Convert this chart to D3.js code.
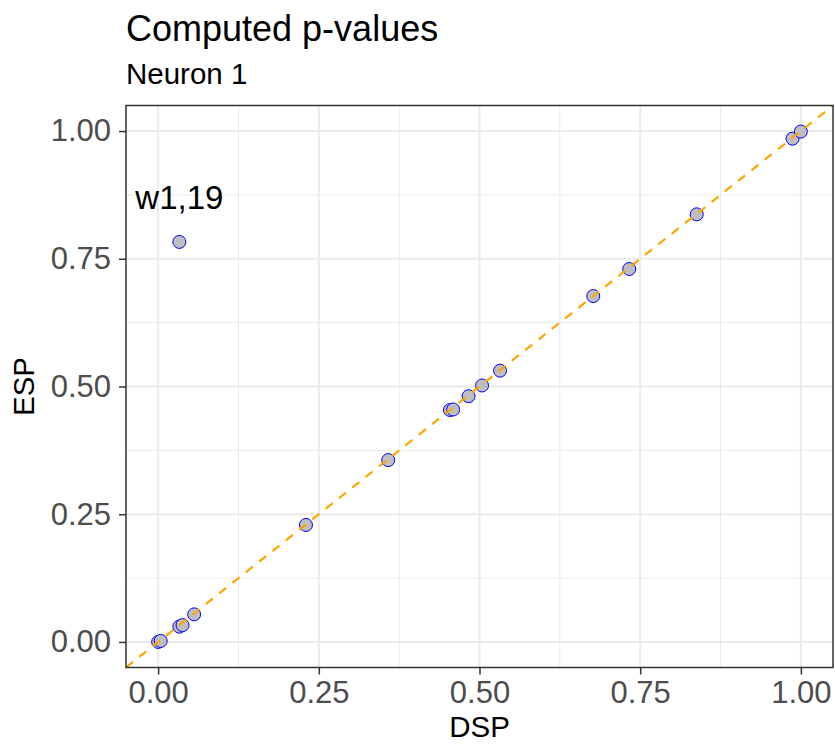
<!DOCTYPE html>
<html>
<head>
<meta charset="utf-8">
<script src="https://cdn.jsdelivr.net/npm/d3@7"></script>
<style>
  body { margin: 0; background: #fff; }
  text { font-family: "Liberation Sans", Arial, sans-serif; }
</style>
</head>
<body>
<svg id="chart" width="835" height="744"></svg>
<script>
// Data
const dsp = [0.000, 0.004, 0.033, 0.038, 0.056, 0.033, 0.230, 0.358, 0.454, 0.459, 0.483, 0.504, 0.532, 0.677, 0.733, 0.838, 0.987, 1.000];
const esp = [0.000, 0.002, 0.030, 0.033, 0.054, 0.783, 0.229, 0.356, 0.454, 0.455, 0.481, 0.502, 0.531, 0.677, 0.730, 0.837, 0.985, 0.999];
const xTicks = [0, 0.25, 0.5, 0.75, 1];
const yTicks = [0, 0.25, 0.5, 0.75, 1];
const minorTicks = [0.125, 0.375, 0.625, 0.875];
const labelText = "w1,19";
const labelPos = [0.033, 0.87];
const titleText = "Computed p-values";
const subtitleText = "Neuron 1";
const xTitle = "DSP";
const yTitle = "ESP";

const svg = d3.select("#chart");
const pL = 126, pR = 833, pT = 105.5, pB = 667.5;
const x = d3.scaleLinear().domain([-0.05, 1.05]).range([pL, pR]);
const y = d3.scaleLinear().domain([-0.05, 1.05]).range([pB, pT]);

// minor grid
const g = svg.append("g");
g.selectAll(".mx").data(minorTicks).join("line")
  .attr("x1", d => x(d)).attr("x2", d => x(d)).attr("y1", pT).attr("y2", pB)
  .attr("stroke", "#EBEBEB").attr("stroke-width", 1);
g.selectAll(".my").data(minorTicks).join("line")
  .attr("y1", d => y(d)).attr("y2", d => y(d)).attr("x1", pL).attr("x2", pR)
  .attr("stroke", "#EBEBEB").attr("stroke-width", 1);
// major grid
g.selectAll(".Mx").data(xTicks).join("line")
  .attr("x1", d => x(d)).attr("x2", d => x(d)).attr("y1", pT).attr("y2", pB)
  .attr("stroke", "#EBEBEB").attr("stroke-width", 2);
g.selectAll(".My").data(yTicks).join("line")
  .attr("y1", d => y(d)).attr("y2", d => y(d)).attr("x1", pL).attr("x2", pR)
  .attr("stroke", "#EBEBEB").attr("stroke-width", 2);

// points
const pts = dsp.map((d, i) => ({x: d, y: esp[i]}));
svg.append("g").selectAll("circle").data(pts).join("circle")
  .attr("cx", d => x(d.x)).attr("cy", d => y(d.y)).attr("r", 6.5)
  .attr("fill", "#BEBEBE").attr("stroke", "#0000FF").attr("stroke-width", 1);

// identity line (clipped to panel)
svg.append("clipPath").attr("id", "clip").append("rect")
  .attr("x", pL).attr("y", pT).attr("width", pR-pL).attr("height", pB-pT);
svg.append("line").attr("clip-path", "url(#clip)")
  .attr("x1", x(-0.05)).attr("y1", y(-0.05)).attr("x2", x(1.05)).attr("y2", y(1.05))
  .attr("stroke", "#FFA500").attr("stroke-width", 2.2).attr("stroke-dasharray", "9,8");

// label
svg.append("text").attr("x", x(labelPos[0])).attr("y", y(labelPos[1])).attr("dy", "0.35em")
  .attr("text-anchor", "middle").attr("font-size", 33).attr("fill", "#000").text(labelText);

// border
svg.append("rect").attr("x", pL).attr("y", pT).attr("width", pR-pL).attr("height", pB-pT)
  .attr("fill", "none").attr("stroke", "#333333").attr("stroke-width", 1.5);

// axes
const xAxis = svg.append("g").attr("transform", `translate(0,${pB})`)
  .call(d3.axisBottom(x).tickValues(xTicks).tickFormat(d3.format(".2f")).tickSizeInner(7).tickSizeOuter(0).tickPadding(6));
const yAxis = svg.append("g").attr("transform", `translate(${pL},0)`)
  .call(d3.axisLeft(y).tickValues(yTicks).tickFormat(d3.format(".2f")).tickSizeInner(7).tickSizeOuter(0).tickPadding(8));
[xAxis, yAxis].forEach(a => {
  a.select(".domain").remove();
  a.selectAll(".tick line").attr("stroke", "#333333").attr("stroke-width", 1.5);
  a.selectAll(".tick text").attr("fill", "#4D4D4D").attr("font-size", 31)
    .attr("font-family", "Liberation Sans, Arial, sans-serif");
});

// titles
svg.append("text").attr("x", pL).attr("y", 41).attr("font-size", 36).attr("fill", "#000").text(titleText);
svg.append("text").attr("x", pL).attr("y", 84).attr("font-size", 29.5).attr("fill", "#000").text(subtitleText);
svg.append("text").attr("x", (pL+pR)/2).attr("y", 737).attr("text-anchor", "middle")
  .attr("font-size", 29.5).attr("fill", "#000").text(xTitle);
svg.append("text").attr("transform", `translate(34,${(pT+pB)/2}) rotate(-90)`).attr("text-anchor", "middle")
  .attr("font-size", 29.5).attr("fill", "#000").text(yTitle);
</script>
</body>
</html>
